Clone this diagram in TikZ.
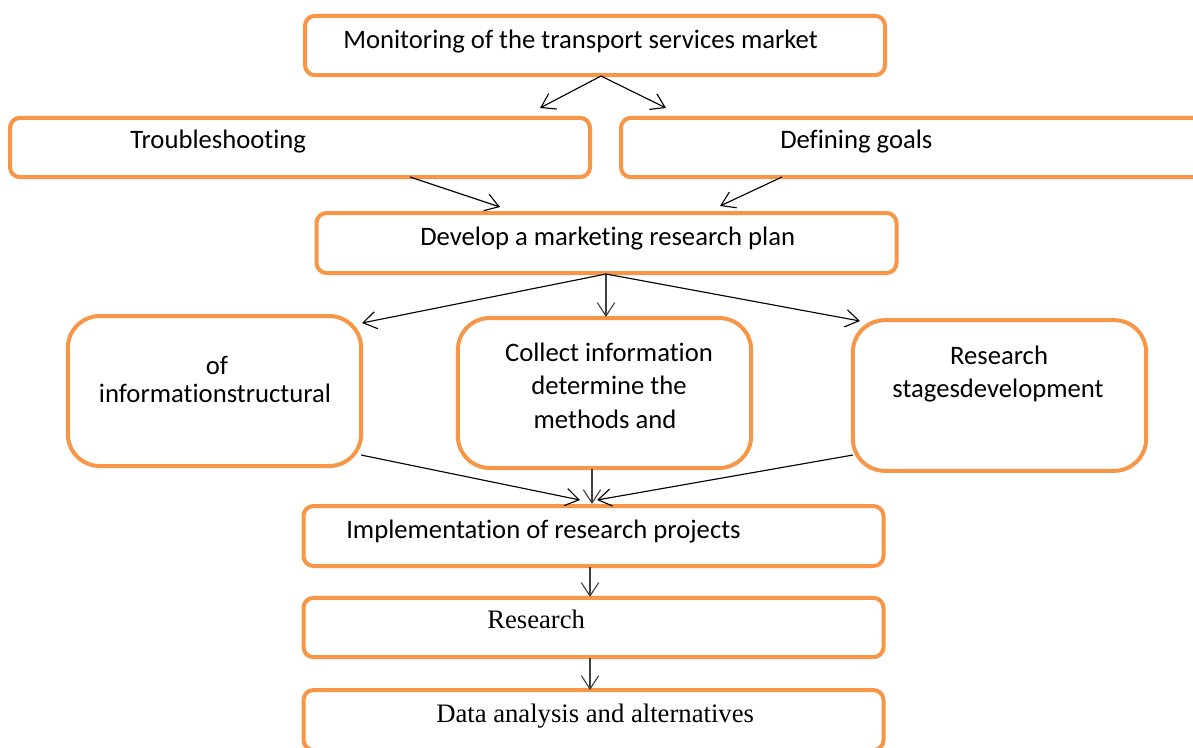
\documentclass[tikz,border=0pt]{standalone}
\usepackage{fontspec}
\setmainfont{Carlito}[Ligatures=NoCommon]
\newfontfamily\serifface{Liberation Serif}
\usetikzlibrary{arrows.meta}
\definecolor{boxorange}{HTML}{F79646}
\definecolor{arrgray}{HTML}{404040}
\tikzset{
  box/.style={draw=boxorange, line width=3pt, rounded corners=7.5pt, fill=white,
    minimum width=435pt, minimum height=44.5pt, inner sep=0pt},
  bigbox/.style={draw=boxorange, line width=3pt, rounded corners=24pt, fill=white,
    minimum width=220pt, minimum height=112.5pt, inner sep=0pt},
  txt/.style={inner sep=0pt, font=\fontsize{20}{24}\selectfont, text=black},
  stxt/.style={inner sep=0pt, font=\serifface\fontsize{20}{24}\selectfont, text=black},
  arr/.style={draw=black, line width=0.85pt, -{Straight Barb[length=10pt,width=13pt,line width=0.85pt]}},
  garr/.style={arr, draw=arrgray}
}
\begin{document}
\begin{tikzpicture}[x=0.75pt,y=-0.75pt]
\useasboundingbox (0,0) rectangle (1193,747);
% boxes
\node[box] (mon) at (595,45.5) {};
\node[box] (trb) at (300,147.5) {};
\node[box, minimum width=438pt] (def) at (913,147.5) {};
\node[box, minimum height=45pt] (dev) at (606.5,243) {};
\node[bigbox] (str) at (214.5,391) {};
\node[bigbox] (col) at (604.5,393) {};
\node[bigbox, minimum height=113pt] (rsd) at (999.5,395.5) {};
\node[box, minimum height=45pt] (imp) at (593.5,536) {};
\node[box] (res) at (593.5,627.5) {};
\node[box, minimum height=45pt] (dat) at (593.5,720) {};
% texts
\node[txt, anchor=base west] (tmon) at (343,48) {Monitoring of the transport services market};
\node[txt, anchor=base west] (ttrb) at (130,148) {Troubleshooting};
\node[txt, anchor=base west] (tdef) at (780,148) {Defining goals};
\node[txt, anchor=base west] (tdev) at (420,245) {Develop a marketing research plan};
\node[txt, anchor=base] (tstr1) at (217,374) {of};
\node[txt, anchor=base] (tstr2) at (215,402) {informationstructural};
\node[txt, anchor=base] (tcol1) at (609,361) {Collect information};
\node[txt, anchor=base] (tcol2) at (609,394) {determine the};
\node[txt, anchor=base] (tcol3) at (605,428) {methods and};
\node[txt, anchor=base] (trsd1) at (999,364) {Research};
\node[txt, anchor=base] (trsd2) at (998,397) {stagesdevelopment};
\node[txt, anchor=base west] (timp) at (346,538) {Implementation of research projects};
\node[stxt, anchor=base west] (tres) at (487,628) {Research};
\node[stxt, anchor=base west] (tdat) at (436,722) {Data analysis and alternatives};
% arrow end points
\coordinate (m0) at (601,76);
\coordinate (m1) at (540,108);
\coordinate (m2) at (666,108);
\coordinate (t0) at (410,177);
\coordinate (t1) at (500,207);
\coordinate (d0) at (782,177);
\coordinate (d1) at (720,206);
\coordinate (v0) at (606,274);
\coordinate (v1) at (362,323);
\coordinate (v2) at (606,317);
\coordinate (v3) at (860,321);
\coordinate (s0) at (361,455);
\coordinate (s1) at (580,500);
\coordinate (c0) at (592,469);
\coordinate (c1) at (592,504);
\coordinate (r0) at (853,455);
\coordinate (r1) at (597,500);
\coordinate (i0) at (590,567);
\coordinate (i1) at (590,597);
\coordinate (e0) at (590,658);
\coordinate (e1) at (590,690);
% arrows
\draw[arr] (m0) -- (m1);
\draw[arr] (m0) -- (m2);
\draw[arr] (t0) -- (t1);
\draw[arr] (d0) -- (d1);
\draw[arr] (v0) -- (v1);
\draw[garr] (v0) -- (v2);
\draw[arr] (v0) -- (v3);
\draw[arr] (s0) -- (s1);
\draw[garr] (c0) -- (c1);
\draw[arr] (r0) -- (r1);
\draw[garr] (i0) -- (i1);
\draw[garr] (e0) -- (e1);
\end{tikzpicture}
\end{document}
